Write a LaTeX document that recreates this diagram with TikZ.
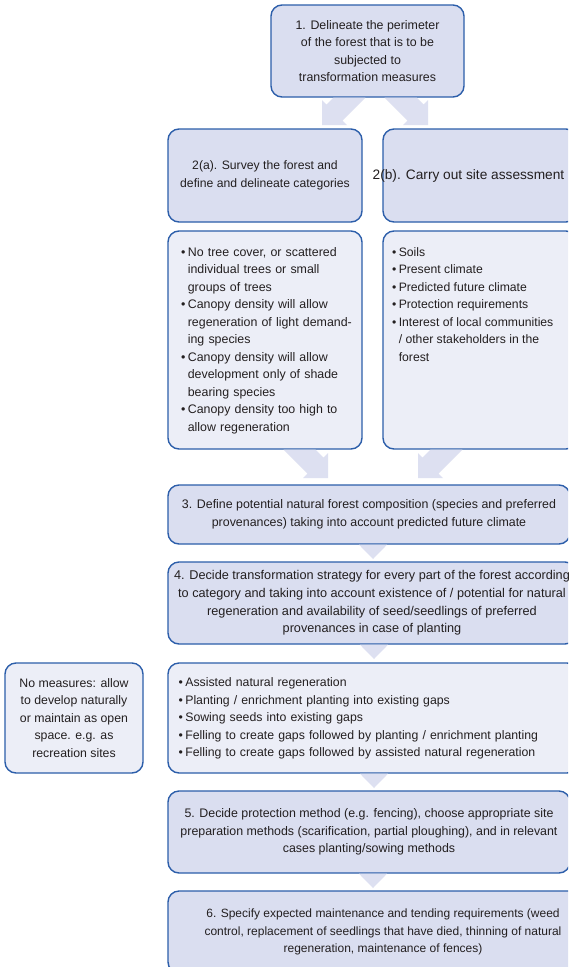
\documentclass[tikz,border=0pt]{standalone}
\usepackage{fontspec}
\setmainfont{Liberation Sans}
\usetikzlibrary{calc}
\definecolor{bord}{RGB}{44,94,170}
\definecolor{hdfill}{RGB}{218,222,240}
\definecolor{lsfill}{RGB}{236,238,247}
\definecolor{arfill}{RGB}{221,224,241}
\definecolor{txtc}{RGB}{35,31,32}
\newcommand{\fsz}[1]{\fontsize{#1}{17.5}\selectfont}
\tikzset{
  box/.style={draw=bord, line width=1.4pt, rounded corners=11pt, outer sep=0pt,
    inner sep=0pt, text=txtc, font=\fsz{12.3}},
  hdbox/.style={box, fill=hdfill, align=center},
  lsbox/.style={box, fill=lsfill},
  plaintext/.style={inner sep=0pt, text=txtc, font=\fsz{12.3}},
  arr/.style={fill=arfill, draw=none},
}
\newcommand{\bl}{\begin{tabular}{@{}l@{\hspace{2.5pt}}l@{}}}
\newcommand{\el}{\end{tabular}}
\begin{document}
\begin{tikzpicture}[x=1pt, y=-1pt]
\useasboundingbox (0,0) rectangle (568,967);
\clip (0,0) rectangle (568,967);
\fill[white] (0,0) rectangle (568,967);

% step 1 and 2
\node[hdbox, font=\fsz{12.4}, minimum width=193pt, minimum height=92pt] (b1) at (367.5,51)
  {1. Delineate the perimeter\\of the forest that is to be\\subjected to\\transformation measures};
\node[hdbox, font=\fsz{12.2}, minimum width=194pt, minimum height=93pt] (b2a) at (265,175.5)
  {2(a). Survey the forest and\\define and delineate categories};
\node[hdbox, minimum width=194pt, minimum height=93pt] (b2b) at (480,175.5) {};
\node[plaintext, font=\fsz{13.7}] (t2b) at (468.5,176) {2(b). Carry out site assessment};

% diverging arrows 1 -> 2a, 2b
\fill[arr, shift={(b1.south)}] (-45.5,28) -- (-45.5,3) -- (-41,7.5) -- (-34.2,0.7)
  -- (-2.2,0.7) -- (-25,23.5) -- (-20.5,28) -- cycle;
\fill[arr, shift={(b1.south)}] (60.5,28) -- (60.5,3) -- (56,7.5) -- (49.2,0.7)
  -- (17.2,0.7) -- (40,23.5) -- (35.5,28) -- cycle;

% lists under 2a and 2b
\node[lsbox, font=\fsz{12.4}, minimum width=194pt, minimum height=218pt, text width=168pt, align=left] (l2a) at (265,340)
  {\bl
   \textbullet & No tree cover, or scattered\\
               & individual trees or small\\
               & groups of trees\\
   \textbullet & Canopy density will allow\\
               & regeneration of light demand-\\
               & ing species\\
   \textbullet & Canopy density will allow\\
               & development only of shade\\
               & bearing species\\
   \textbullet & Canopy density too high to\\
               & allow regeneration\\
   \el};
\node[lsbox, font=\fsz{12.2}, minimum width=194pt, minimum height=218pt] (l2b) at (480,340)
  {\parbox[c][192pt][t]{176pt}{\bl
   \textbullet & Soils\\
   \textbullet & Present climate\\
   \textbullet & Predicted future climate\\
   \textbullet & Protection requirements\\
   \textbullet & Interest of local communities\\
               & / other stakeholders in the\\
               & forest\\
   \el}};

% step 3
\node[hdbox, font=\fsz{12.4}, minimum width=402pt, minimum height=59pt] (b3) at (369,514.5)
  {3. Define potential natural forest composition (species and preferred\\provenances) taking into account predicted future climate};

% converging arrows lists -> 3
\fill[arr, shift={(b3.north)}] (-41,-7) -- (-41,-32) -- (-45.5,-27.5) -- (-53.3,-35.3)
  -- (-85.3,-35.3) -- (-61.5,-11.5) -- (-66,-7) -- cycle;
\fill[arr, shift={(b3.north)}] (49,-7) -- (49,-32) -- (53.5,-27.5) -- (61.3,-35.3)
  -- (93.3,-35.3) -- (69.5,-11.5) -- (74,-7) -- cycle;

% step 4
\node[hdbox, font=\fontsize{12.7}{17.8}\selectfont, minimum width=408pt, minimum height=82pt] (b4) at (372,603)
  {4. Decide transformation strategy for every part of the forest according\\
   to category and taking into account existence of / potential for natural\\
   regeneration and availability of seed/seedlings of preferred\\
   provenances in case of planting};
\fill[arr, shift={(b3.south)}] (-10,0.7) -- (18,0.7) -- (4,15) -- cycle;

% strategies list
\node[lsbox, minimum width=410pt, minimum height=110pt, text width=389pt, align=left] (l4) at (373,718)
  {\bl
   \textbullet & Assisted natural regeneration\\
   \textbullet & Planting / enrichment planting into existing gaps\\
   \textbullet & Sowing seeds into existing gaps\\
   \textbullet & Felling to create gaps followed by planting / enrichment planting\\
   \textbullet & Felling to create gaps followed by assisted natural regeneration\\
   \el};
\fill[arr, shift={(b4.south)}] (-12,0.7) -- (16,0.7) -- (2,15) -- cycle;

\node[lsbox, minimum width=138pt, minimum height=110pt, align=center] (nm) at (74,718)
  {No measures: allow\\to develop naturally\\or maintain as open\\space. e.g. as\\recreation sites};

% step 5
\node[hdbox, font=\fsz{12.4}, minimum width=402pt, minimum height=82pt] (b5) at (369,832)
  {5. Decide protection method (e.g. fencing), choose appropriate site\\
   preparation methods (scarification, partial ploughing), and in relevant\\
   cases planting/sowing methods};
\fill[arr, shift={(l4.south)}] (-13,0.7) -- (15,0.7) -- (1,15) -- cycle;

% step 6
\node[hdbox, font=\fsz{12.0}, minimum width=430pt, minimum height=82pt] (b6) at (383,932)
  {6. Specify expected maintenance and tending requirements (weed\\
   control, replacement of seedlings that have died, thinning of natural\\
   regeneration, maintenance of fences)};
\fill[arr, shift={(b5.south)}] (-10,0.7) -- (18,0.7) -- (4,15) -- cycle;
\end{tikzpicture}
\end{document}
